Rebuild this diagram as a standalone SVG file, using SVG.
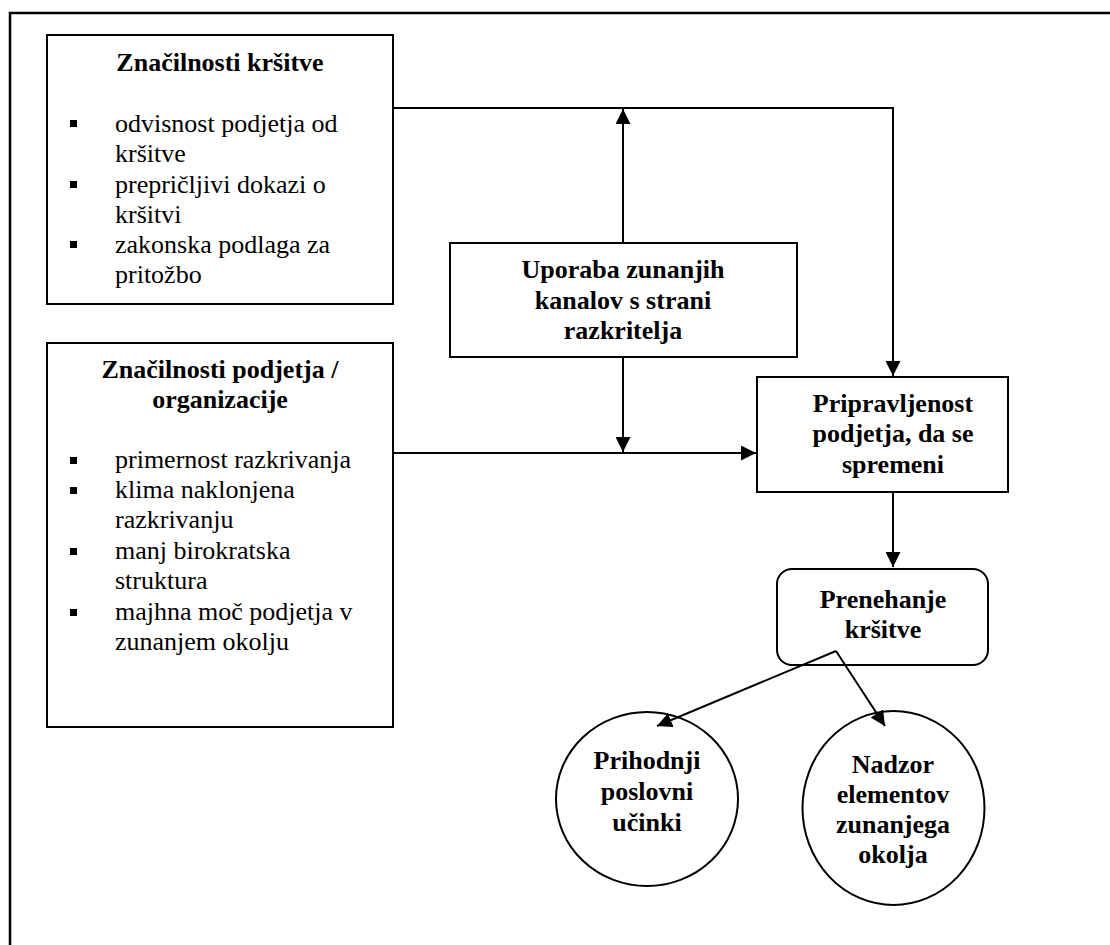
<svg xmlns="http://www.w3.org/2000/svg" width="1110" height="945" viewBox="0 0 1110 945">
<style>
.box{fill:#fff;stroke:#000;stroke-width:2}
.ln{fill:none;stroke:#000;stroke-width:2}
.t{font-family:"Liberation Serif","Times New Roman",serif;font-size:26px;fill:#000}
.b{font-weight:bold;text-anchor:middle}
.bul{fill:#000}
</style>
<defs>
<marker id="ah" viewBox="0 0 10 10" refX="10" refY="5" markerWidth="15" markerHeight="15" markerUnits="userSpaceOnUse" orient="auto">
<path d="M0,0 L10,5 L0,10 Z" fill="#000"/>
</marker>
</defs>
<rect width="1110" height="945" fill="#fff"/>
<path d="M10,945 V13 H1110" fill="none" stroke="#000" stroke-width="2.5"/>
<g id="n1">
<rect class="box" x="47" y="35" width="346" height="269"/>
<text class="t b" x="220" y="71">Značilnosti kršitve</text>
<rect class="bul" x="70" y="120" width="7" height="7"/>
<rect class="bul" x="70" y="181" width="7" height="7"/>
<rect class="bul" x="70" y="241" width="7" height="7"/>
<text class="t" x="115" y="132">odvisnost podjetja od</text>
<text class="t" x="115" y="162">kršitve</text>
<text class="t" x="115" y="193">prepričljivi dokazi o</text>
<text class="t" x="115" y="223">kršitvi</text>
<text class="t" x="115" y="253">zakonska podlaga za</text>
<text class="t" x="115" y="283">pritožbo</text>
</g>
<g id="n2">
<rect class="box" x="47" y="343" width="346" height="384"/>
<text class="t b" x="220" y="378">Značilnosti podjetja /</text>
<text class="t b" x="220" y="408">organizacije</text>
<rect class="bul" x="70" y="457" width="7" height="7"/>
<rect class="bul" x="70" y="487" width="7" height="7"/>
<rect class="bul" x="70" y="548" width="7" height="7"/>
<rect class="bul" x="70" y="609" width="7" height="7"/>
<text class="t" x="115" y="468">primernost razkrivanja</text>
<text class="t" x="115" y="498">klima naklonjena</text>
<text class="t" x="115" y="528">razkrivanju</text>
<text class="t" x="115" y="559">manj birokratska</text>
<text class="t" x="115" y="589">struktura</text>
<text class="t" x="115" y="620">majhna moč podjetja v</text>
<text class="t" x="115" y="650">zunanjem okolju</text>
</g>
<g id="n3">
<rect class="box" x="450" y="243" width="347" height="114"/>
<text class="t b" x="623" y="278">Uporaba zunanjih</text>
<text class="t b" x="623" y="309">kanalov s strani</text>
<text class="t b" x="623" y="339">razkritelja</text>
</g>
<g id="n4">
<rect class="box" x="757" y="377" width="251" height="115"/>
<text class="t b" x="893" y="412">Pripravljenost</text>
<text class="t b" x="893" y="442">podjetja, da se</text>
<text class="t b" x="893" y="473">spremeni</text>
</g>
<g id="n5">
<rect class="box" x="777" y="569" width="211" height="96" rx="15" ry="15"/>
<text class="t b" x="883" y="608">Prenehanje</text>
<text class="t b" x="883" y="638">kršitve</text>
</g>
<g id="n6">
<ellipse class="box" cx="647" cy="799" rx="91" ry="87"/>
<text class="t b" x="647" y="769">Prihodnji</text>
<text class="t b" x="647" y="800">poslovni</text>
<text class="t b" x="647" y="831">učinki</text>
</g>
<g id="n7">
<ellipse class="box" cx="893.5" cy="808" rx="91" ry="97"/>
<text class="t b" x="893" y="773">Nadzor</text>
<text class="t b" x="893" y="803">elementov</text>
<text class="t b" x="893" y="833">zunanjega</text>
<text class="t b" x="893" y="863">okolja</text>
</g>
<g id="connectors">
<path class="ln" d="M393,108 H893 V376" marker-end="url(#ah)"/>
<path class="ln" d="M623,243 V109" marker-end="url(#ah)"/>
<path class="ln" d="M623,357 V452" marker-end="url(#ah)"/>
<path class="ln" d="M393,453 H756" marker-end="url(#ah)"/>
<path class="ln" d="M893,492 V567" marker-end="url(#ah)"/>
<path class="ln" d="M836,651 L657,726" marker-end="url(#ah)"/>
<path class="ln" d="M836,651 L885,726" marker-end="url(#ah)"/>
</g>
</svg>
